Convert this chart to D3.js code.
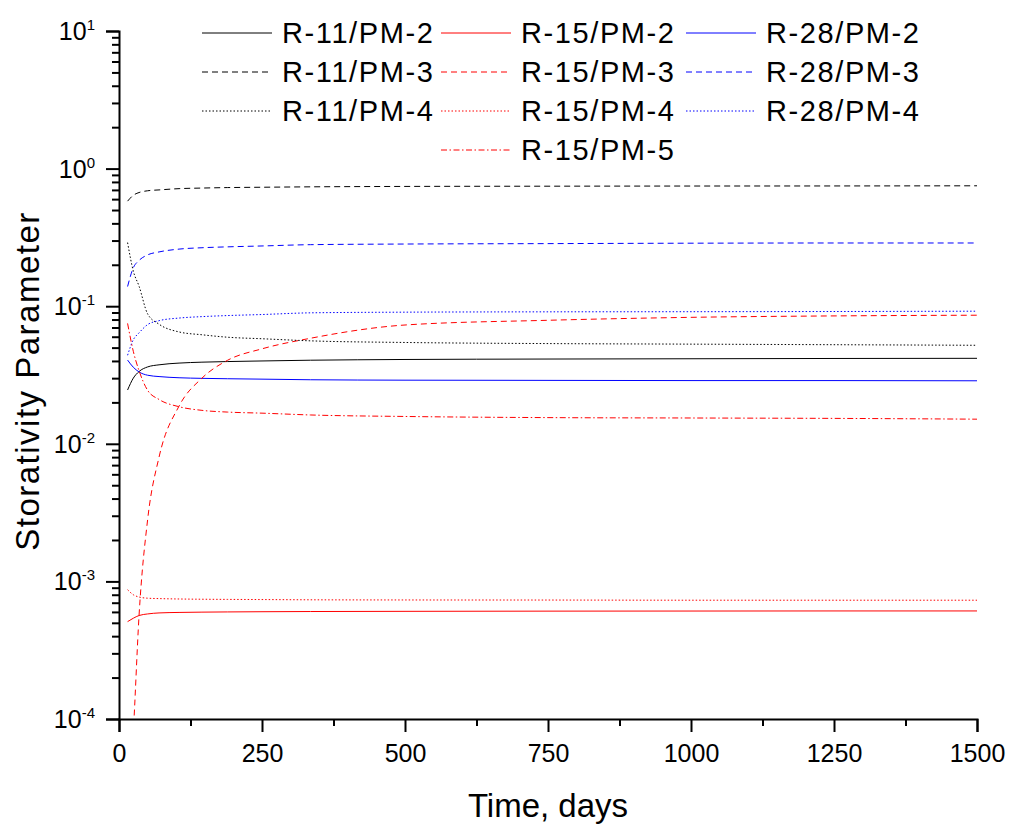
<!DOCTYPE html>
<html>
<head>
<meta charset="utf-8">
<script src="https://d3js.org/d3.v7.min.js"></script>
<style>
  body { margin: 0; background: #fff; }
  text { font-family: Arial, "Liberation Sans", sans-serif; fill: #000; }
</style>
</head>
<body>
<div id="chart"></div>
<script>
// time axis (days) shared by all the curves
var days = [15, 25, 35, 50, 70, 105, 145, 190, 250, 335, 500, 750, 1000, 1250, 1500];

var r11pm2 = [0.0246, 0.030, 0.0335, 0.0362, 0.0375, 0.0386, 0.0392, 0.0396, 0.040, 0.0405, 0.041, 0.0413, 0.0415, 0.0417, 0.0418];
var r11pm3 = [0.58, 0.64, 0.67, 0.69, 0.70, 0.715, 0.722, 0.728, 0.732, 0.737, 0.742, 0.745, 0.747, 0.748, 0.75];
var r11pm4 = [0.29, 0.18, 0.14, 0.088, 0.074, 0.065, 0.062, 0.0595, 0.058, 0.056, 0.0545, 0.0535, 0.053, 0.0525, 0.052];
var r15pm2 = [5.1e-4, 5.4e-4, 5.65e-4, 5.8e-4, 5.9e-4, 5.95e-4, 5.98e-4, 6.0e-4, 6.02e-4, 6.04e-4, 6.06e-4, 6.08e-4, 6.09e-4, 6.1e-4, 6.1e-4];
var r15pm3 = [2e-5, 8e-5, 5.6e-4, 2.8e-3, 8e-3, 0.0188, 0.0300, 0.0405, 0.049, 0.0585, 0.073, 0.079, 0.083, 0.085, 0.086];
var r15pm4 = [8.7e-4, 8.0e-4, 7.7e-4, 7.55e-4, 7.5e-4, 7.45e-4, 7.42e-4, 7.4e-4, 7.38e-4, 7.35e-4, 7.33e-4, 7.32e-4, 7.3e-4, 7.3e-4, 7.3e-4];
var r15pm5 = [0.075, 0.047, 0.034, 0.0245, 0.021, 0.0186, 0.0175, 0.017, 0.0167, 0.0162, 0.0158, 0.0155, 0.0154, 0.0153, 0.0151];
var r28pm2 = [0.0406, 0.036, 0.0333, 0.0315, 0.0308, 0.0302, 0.0299, 0.0297, 0.0295, 0.0292, 0.029, 0.0289, 0.0288, 0.0288, 0.0287];
var r28pm3 = [0.139, 0.19, 0.215, 0.236, 0.248, 0.26, 0.266, 0.27, 0.274, 0.28, 0.283, 0.285, 0.287, 0.288, 0.288];
var r28pm4 = [0.044, 0.057, 0.064, 0.0735, 0.0785, 0.082, 0.084, 0.0855, 0.087, 0.0895, 0.0905, 0.091, 0.0912, 0.0915, 0.092];

var xTicks = [0, 250, 500, 750, 1000, 1250, 1500];
var yTicks = [1e-4, 1e-3, 1e-2, 1e-1, 1, 10];
var yExp = [-4, -3, -2, -1, 0, 1];

// legend order / layout slot (col, row)
var series = [
    { name: "R-11/PM-2", values: r11pm2, color: "#000000", dash: null, col: 0, row: 0 },
    { name: "R-15/PM-2", values: r15pm2, color: "#ff0000", dash: null, col: 1, row: 0 },
    { name: "R-28/PM-2", values: r28pm2, color: "#0000ff", dash: null, col: 2, row: 0 },
    { name: "R-11/PM-3", values: r11pm3, color: "#000000", dash: "6,4", col: 0, row: 1 },
    { name: "R-15/PM-3", values: r15pm3, color: "#ff0000", dash: "6,4", col: 1, row: 1 },
    { name: "R-28/PM-3", values: r28pm3, color: "#0000ff", dash: "6,4", col: 2, row: 1 },
    { name: "R-11/PM-4", values: r11pm4, color: "#000000", dash: "1.5,2", col: 0, row: 2 },
    { name: "R-15/PM-4", values: r15pm4, color: "#ff0000", dash: "1.5,2", col: 1, row: 2 },
    { name: "R-28/PM-4", values: r28pm4, color: "#0000ff", dash: "1.5,2", col: 2, row: 2 },
    { name: "R-15/PM-5", values: r15pm5, color: "#ff0000", dash: "6,2.5,1.5,2.5", col: 1, row: 3 }
];

var margin = { top: 31, right: 33, bottom: 108, left: 119 },
    width = 1010 - margin.left - margin.right,
    height = 827 - margin.top - margin.bottom;

var svg = d3.select("#chart")
    .append("svg")
    .attr("width", 1010)
    .attr("height", 827);

var g = svg.append("g")
    .attr("transform", "translate(" + margin.left + "," + margin.top + ")");

var x = d3.scaleLinear().domain([0, 1500]).range([0, width]);
var y = d3.scaleLog().domain([1e-4, 10]).range([height, 0]);

g.append("clipPath").attr("id", "plotclip")
    .append("rect").attr("width", width).attr("height", height);

// curves
var line = d3.line()
    .x(function (d, i) { return x(days[i]); })
    .y(function (d) { return y(d); })
    .curve(d3.curveMonotoneX);

g.append("g").attr("clip-path", "url(#plotclip)")
    .selectAll("path")
    .data(series)
    .enter()
    .append("path")
    .attr("d", function (d) { return line(d.values); })
    .attr("fill", "none")
    .attr("stroke", function (d) { return d.color; })
    .attr("stroke-width", 1)
    .attr("stroke-dasharray", function (d) { return d.dash; });

// y minor ticks
var yMinor = [];
yExp.slice(0, -1).forEach(function (e) {
    for (var k = 2; k <= 9; k++) yMinor.push(k * Math.pow(10, e));
});
g.append("g")
    .call(d3.axisLeft(y).tickValues(yMinor).tickSize(7).tickFormat(""))
    .call(function (a) { a.select(".domain").remove(); })
    .selectAll("line").attr("stroke-width", 2);

// y major ticks
var yAxis = g.append("g")
    .call(d3.axisLeft(y).tickValues(yTicks).tickSize(13).tickFormat(""));
yAxis.select(".domain").attr("stroke-width", 2);
yAxis.selectAll("line").attr("stroke-width", 2);

var yLab = g.selectAll(".ylab")
    .data(yTicks)
    .enter()
    .append("text")
    .attr("class", "ylab")
    .attr("text-anchor", "end")
    .attr("x", -24)
    .attr("y", function (d) { return y(d) + 9; })
    .style("font-size", "25px");
yLab.append("tspan").text("10");
yLab.append("tspan")
    .attr("dy", -10)
    .style("font-size", "15px")
    .text(function (d, i) { return String(yExp[i]); });

// x minor ticks
var xMinor = xTicks.slice(0, -1).map(function (v) { return v + 125; });
g.append("g")
    .attr("transform", "translate(0," + height + ")")
    .call(d3.axisBottom(x).tickValues(xMinor).tickSize(7).tickFormat(""))
    .call(function (a) { a.select(".domain").remove(); })
    .selectAll("line").attr("stroke-width", 2);

var xAxis = g.append("g")
    .attr("transform", "translate(0," + height + ")")
    .call(d3.axisBottom(x).tickValues(xTicks).tickSize(13).tickPadding(12).tickFormat(d3.format("d")));
xAxis.select(".domain").attr("stroke-width", 2);
xAxis.selectAll("line").attr("stroke-width", 2);
xAxis.selectAll("text")
    .style("font-size", "25px")
    .style("font-family", "Arial, 'Liberation Sans', sans-serif")
    .attr("fill", "#000");

// axis titles
svg.append("text")
    .attr("x", margin.left + width / 2)
    .attr("y", 817)
    .attr("text-anchor", "middle")
    .style("font-size", "33px")
    .text("Time, days");

svg.append("text")
    .attr("transform", "translate(39,381)rotate(-90)")
    .attr("text-anchor", "middle")
    .style("font-size", "33px")
    .style("letter-spacing", "1.5px")
    .text("Storativity Parameter");

// legend
var colX = [202, 441, 686];
var legend = svg.append("g");
var item = legend.selectAll("g")
    .data(series)
    .enter()
    .append("g")
    .attr("transform", function (d) {
        return "translate(" + colX[d.col] + "," + (33 + 39 * d.row) + ")";
    });
item.append("line")
    .attr("x1", 0).attr("x2", 70)
    .attr("stroke", function (d) { return d.color; })
    .attr("stroke-width", 1)
    .attr("stroke-dasharray", function (d) { return d.dash; });
item.append("text")
    .attr("x", 80)
    .attr("y", 10)
    .style("font-size", "29px")
    .style("letter-spacing", "1.6px")
    .text(function (d) { return d.name; });
</script>
</body>
</html>
